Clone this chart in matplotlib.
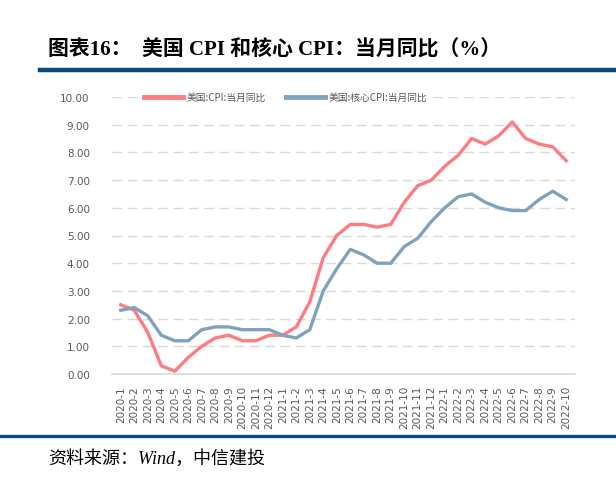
import matplotlib.pyplot as plt
from matplotlib.lines import Line2D

plt.rcParams['font.family'] = ['Noto Sans CJK SC', 'DejaVu Sans']

months = ["2020-1", "2020-2", "2020-3", "2020-4", "2020-5", "2020-6", "2020-7", "2020-8",
          "2020-9", "2020-10", "2020-11", "2020-12", "2021-1", "2021-2", "2021-3", "2021-4",
          "2021-5", "2021-6", "2021-7", "2021-8", "2021-9", "2021-10", "2021-11", "2021-12",
          "2022-1", "2022-2", "2022-3", "2022-4", "2022-5", "2022-6", "2022-7", "2022-8",
          "2022-9", "2022-10"]
cpi = [2.5, 2.3, 1.5, 0.3, 0.1, 0.6, 1.0, 1.3, 1.4, 1.2, 1.2, 1.4,
       1.4, 1.7, 2.6, 4.2, 5.0, 5.4, 5.4, 5.3, 5.4, 6.2, 6.8, 7.0,
       7.5, 7.9, 8.5, 8.3, 8.6, 9.1, 8.5, 8.3, 8.2, 7.7]
core_cpi = [2.3, 2.4, 2.1, 1.4, 1.2, 1.2, 1.6, 1.7, 1.7, 1.6, 1.6, 1.6,
            1.4, 1.3, 1.6, 3.0, 3.8, 4.5, 4.3, 4.0, 4.0, 4.6, 4.9, 5.5,
            6.0, 6.4, 6.5, 6.2, 6.0, 5.9, 5.9, 6.3, 6.6, 6.3]
yticks = [0, 1, 2, 3, 4, 5, 6, 7, 8, 9, 10]

fig = plt.figure(figsize=(6.16, 4.85), dpi=100)
W, H = 616, 485

# axes: x from 112 to 575 px, y from 98 (10.00) to 375 (0.00)
ax = fig.add_axes([112 / W, 1 - 375 / H, (575 - 112) / W, (375 - 98) / H])

x = list(range(len(months)))
ax.plot(x, cpi, color="#FF7C80", lw=2.4, label="美国:CPI:当月同比")
ax.plot(x, core_cpi, color="#7FA3BE", lw=2.4, label="美国:核心CPI:当月同比")

ax.set_xlim(-0.65, len(months) - 0.35)
ax.set_ylim(0, 10)
ax.set_yticks(yticks)
ax.set_yticklabels([f"{v:.2f}" for v in yticks], color="#595959", fontsize=7.5,
                   family=["DejaVu Sans"])
ax.set_xticks(x)
ax.set_xticklabels(months, rotation=90, color="#595959", fontsize=7.5, family=["DejaVu Sans"])
ax.tick_params(length=0, pad=8)
ax.tick_params(axis="y", pad=16)

for v in yticks[1:]:
    ax.axhline(v, color="#D9D9D9", lw=1.0, ls=(0, (7, 4)), zorder=0)
for s in ["top", "right", "left"]:
    ax.spines[s].set_visible(False)
ax.spines["bottom"].set_color("#D9D9D9")
ax.spines["bottom"].set_linewidth(1.2)

handles = [Line2D([], [], color="#FF7C80", lw=3.5), Line2D([], [], color="#7FA3BE", lw=3.5)]
leg = ax.legend(handles, ["美国:CPI:当月同比", "美国:核心CPI:当月同比"], loc="center left",
                bbox_to_anchor=(0.055, 1.0), ncol=2, frameon=True, fontsize=7,
                handlelength=4.0, columnspacing=2.0, handletextpad=0.4,
                labelcolor="#595959", borderpad=0.2)
leg.get_frame().set_facecolor("white")
leg.get_frame().set_edgecolor("none")

# title and rules
fig.text(48 / W, 1 - 50 / H, "图表16：  美国 CPI 和核心 CPI：当月同比（%）",
         fontsize=15, fontweight="bold", va="center", ha="left",
         family=["Liberation Serif", "Noto Sans CJK SC"])
fig.add_artist(Line2D([40 / W, 1], [1 - 71 / H, 1 - 71 / H], color="#0B4A7A", lw=3.2))
fig.add_artist(Line2D([0, 1], [1 - 437 / H, 1 - 437 / H], color="#0B4A7A", lw=2.4))
fig.text(48 / W, 1 - 459 / H, "资料来源：Wind，中信建投", fontsize=13, style="italic",
         va="center", ha="left", family=["Liberation Serif", "Noto Sans CJK SC"])

fig.savefig("out.png", dpi=100)
